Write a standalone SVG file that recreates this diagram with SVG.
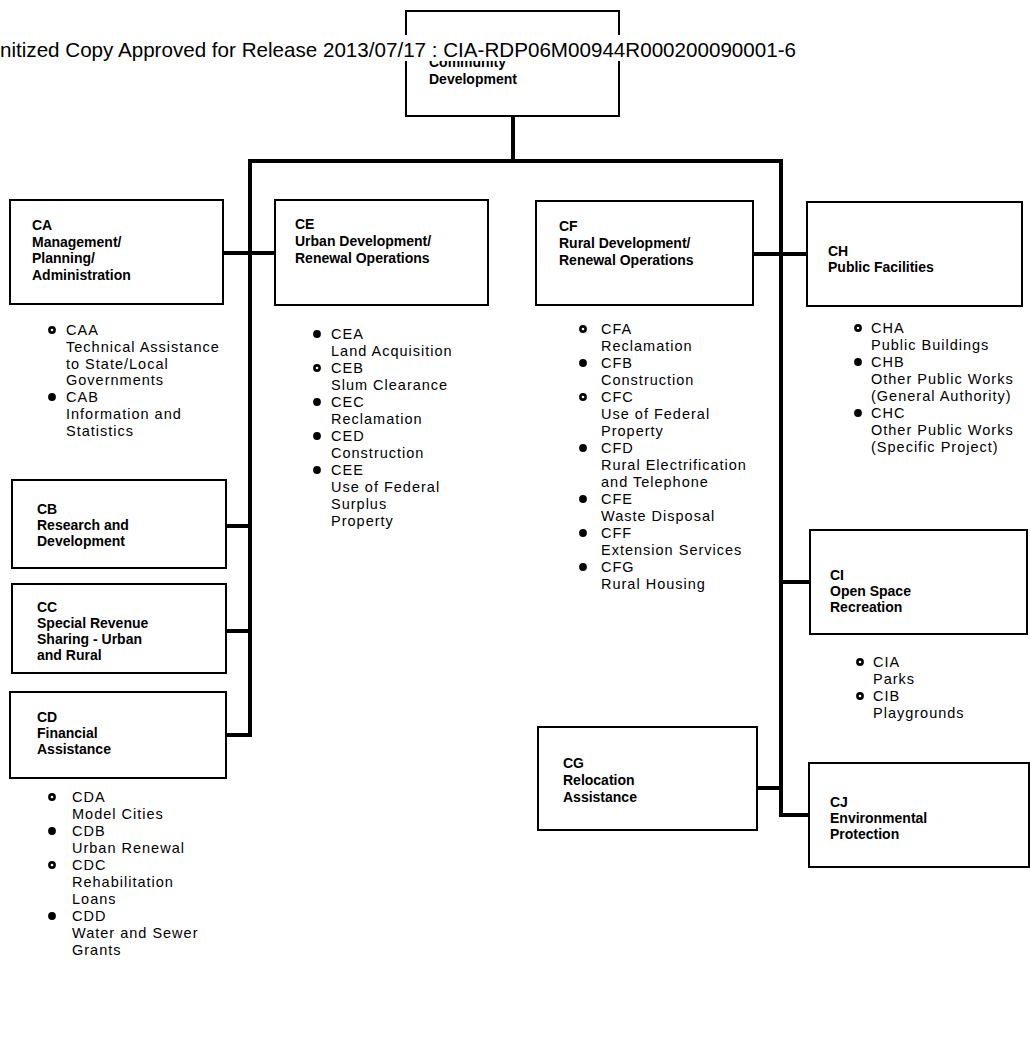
<svg xmlns="http://www.w3.org/2000/svg" width="1030" height="1057" viewBox="0 0 1030 1057">
  <style>
    .box { fill: #fff; stroke: #000; stroke-width: 2; }
    .title { font-family: "Liberation Sans", Arial, sans-serif; font-size: 14px; font-weight: bold; fill: #000; }
    .item { font-family: "Liberation Sans", Arial, sans-serif; font-size: 14.5px; letter-spacing: 1px; fill: #000; }
    .wire { fill: none; stroke: #000; stroke-width: 4; stroke-linejoin: miter; }
    .dot { fill: #000; }
    .core { fill: #fff; }
    .banner { font-family: "Liberation Sans", Arial, sans-serif; font-size: 20.6px; fill: #000; }
  </style>
  <defs>
    <circle id="bullet" r="3.9" class="dot"/>
    <g id="ring"><circle r="3.9" class="dot"/><circle r="1.3" class="core"/></g>
  </defs>
  <rect width="1030" height="1057" fill="#fff"/>

  <!-- connectors -->
  <g id="connectors">
    <path class="wire" d="M513 116 V161"/>
    <path class="wire" d="M226 735 H250 V161 H781 V815 H809"/>
    <path class="wire" d="M223 253 H275"/>
    <path class="wire" d="M226 526 H250"/>
    <path class="wire" d="M226 631 H250"/>
    <path class="wire" d="M753 254 H807"/>
    <path class="wire" d="M781 582 H810"/>
    <path class="wire" d="M757 788 H781"/>
  </g>

  <!-- root -->
  <g id="C">
    <rect class="box" x="406" y="11" width="213" height="105"/>
    <text class="title" x="429" y="67">Community<tspan x="429" dy="17">Development</tspan></text>
  </g>

  <!-- first row -->
  <g id="CA">
    <rect class="box" x="10" y="200" width="213" height="104"/>
    <text class="title" x="32" y="230">CA<tspan x="32" dy="16.5">Management/</tspan><tspan x="32" dy="16.5">Planning/</tspan><tspan x="32" dy="16.5">Administration</tspan></text>
    <use href="#ring" x="52" y="330"/>
    <use href="#bullet" x="52" y="397"/>
    <text class="item" x="66" y="335">CAA<tspan x="66" dy="16.8">Technical Assistance</tspan><tspan x="66" dy="16.8">to State/Local</tspan><tspan x="66" dy="16.8">Governments</tspan><tspan x="66" dy="16.8">CAB</tspan><tspan x="66" dy="16.8">Information and</tspan><tspan x="66" dy="16.8">Statistics</tspan></text>
  </g>

  <g id="CE">
    <rect class="box" x="275" y="200" width="213" height="105"/>
    <text class="title" x="295" y="229">CE<tspan x="295" dy="17">Urban Development/</tspan><tspan x="295" dy="17">Renewal Operations</tspan></text>
    <use href="#bullet" x="317" y="334"/>
    <use href="#ring" x="317" y="368"/>
    <use href="#bullet" x="317" y="402"/>
    <use href="#bullet" x="317" y="436"/>
    <use href="#bullet" x="317" y="470"/>
    <text class="item" x="331" y="339">CEA<tspan x="331" dy="17">Land Acquisition</tspan><tspan x="331" dy="17">CEB</tspan><tspan x="331" dy="17">Slum Clearance</tspan><tspan x="331" dy="17">CEC</tspan><tspan x="331" dy="17">Reclamation</tspan><tspan x="331" dy="17">CED</tspan><tspan x="331" dy="17">Construction</tspan><tspan x="331" dy="17">CEE</tspan><tspan x="331" dy="17">Use of Federal</tspan><tspan x="331" dy="17">Surplus</tspan><tspan x="331" dy="17">Property</tspan></text>
  </g>

  <g id="CF">
    <rect class="box" x="536" y="201" width="217" height="104"/>
    <text class="title" x="559" y="231">CF<tspan x="559" dy="17">Rural Development/</tspan><tspan x="559" dy="17">Renewal Operations</tspan></text>
    <use href="#ring" x="583" y="329"/>
    <use href="#bullet" x="583" y="363"/>
    <use href="#ring" x="583" y="397"/>
    <use href="#bullet" x="583" y="448"/>
    <use href="#bullet" x="583" y="499"/>
    <use href="#bullet" x="583" y="533"/>
    <use href="#bullet" x="583" y="567"/>
    <text class="item" x="601" y="334">CFA<tspan x="601" dy="17">Reclamation</tspan><tspan x="601" dy="17">CFB</tspan><tspan x="601" dy="17">Construction</tspan><tspan x="601" dy="17">CFC</tspan><tspan x="601" dy="17">Use of Federal</tspan><tspan x="601" dy="17">Property</tspan><tspan x="601" dy="17">CFD</tspan><tspan x="601" dy="17">Rural Electrification</tspan><tspan x="601" dy="17">and Telephone</tspan><tspan x="601" dy="17">CFE</tspan><tspan x="601" dy="17">Waste Disposal</tspan><tspan x="601" dy="17">CFF</tspan><tspan x="601" dy="17">Extension Services</tspan><tspan x="601" dy="17">CFG</tspan><tspan x="601" dy="17">Rural Housing</tspan></text>
  </g>

  <g id="CH">
    <rect class="box" x="807" y="202" width="215" height="104"/>
    <text class="title" x="828" y="256">CH<tspan x="828" dy="16">Public Facilities</tspan></text>
    <use href="#ring" x="858" y="328"/>
    <use href="#bullet" x="858" y="362"/>
    <use href="#bullet" x="858" y="413"/>
    <text class="item" x="871" y="333">CHA<tspan x="871" dy="17">Public Buildings</tspan><tspan x="871" dy="17">CHB</tspan><tspan x="871" dy="17">Other Public Works</tspan><tspan x="871" dy="17">(General Authority)</tspan><tspan x="871" dy="17">CHC</tspan><tspan x="871" dy="17">Other Public Works</tspan><tspan x="871" dy="17">(Specific Project)</tspan></text>
  </g>

  <!-- left column -->
  <g id="CB">
    <rect class="box" x="12" y="480" width="214" height="88"/>
    <text class="title" x="37" y="514">CB<tspan x="37" dy="16">Research and</tspan><tspan x="37" dy="16">Development</tspan></text>
  </g>

  <g id="CC">
    <rect class="box" x="12" y="584" width="214" height="89"/>
    <text class="title" x="37" y="612">CC<tspan x="37" dy="16">Special Revenue</tspan><tspan x="37" dy="16">Sharing - Urban</tspan><tspan x="37" dy="16">and Rural</tspan></text>
  </g>

  <g id="CD">
    <rect class="box" x="10" y="692" width="216" height="86"/>
    <text class="title" x="37" y="722">CD<tspan x="37" dy="16">Financial</tspan><tspan x="37" dy="16">Assistance</tspan></text>
    <use href="#ring" x="52" y="797"/>
    <use href="#bullet" x="52" y="831"/>
    <use href="#ring" x="52" y="865"/>
    <use href="#bullet" x="52" y="916"/>
    <text class="item" x="72" y="802">CDA<tspan x="72" dy="17">Model Cities</tspan><tspan x="72" dy="17">CDB</tspan><tspan x="72" dy="17">Urban Renewal</tspan><tspan x="72" dy="17">CDC</tspan><tspan x="72" dy="17">Rehabilitation</tspan><tspan x="72" dy="17">Loans</tspan><tspan x="72" dy="17">CDD</tspan><tspan x="72" dy="17">Water and Sewer</tspan><tspan x="72" dy="17">Grants</tspan></text>
  </g>

  <!-- right column -->
  <g id="CI">
    <rect class="box" x="810" y="530" width="217" height="104"/>
    <text class="title" x="830" y="580">CI<tspan x="830" dy="16">Open Space</tspan><tspan x="830" dy="16">Recreation</tspan></text>
    <use href="#ring" x="860" y="662"/>
    <use href="#ring" x="860" y="696"/>
    <text class="item" x="873" y="667">CIA<tspan x="873" dy="17">Parks</tspan><tspan x="873" dy="17">CIB</tspan><tspan x="873" dy="17">Playgrounds</tspan></text>
  </g>

  <g id="CG">
    <rect class="box" x="538" y="727" width="219" height="103"/>
    <text class="title" x="563" y="768">CG<tspan x="563" dy="17">Relocation</tspan><tspan x="563" dy="17">Assistance</tspan></text>
  </g>

  <g id="CJ">
    <rect class="box" x="809" y="763" width="220" height="104"/>
    <text class="title" x="830" y="807">CJ<tspan x="830" dy="16">Environmental</tspan><tspan x="830" dy="16">Protection</tspan></text>
  </g>

  <!-- release stamp printed across the top -->
  <g id="stamp">
    <rect x="0" y="35" width="800" height="26" fill="#fff"/>
    <text class="banner" x="0" y="57" textLength="796" lengthAdjust="spacingAndGlyphs">nitized Copy Approved for Release 2013/07/17 : CIA-RDP06M00944R000200090001-6</text>
  </g>
</svg>
